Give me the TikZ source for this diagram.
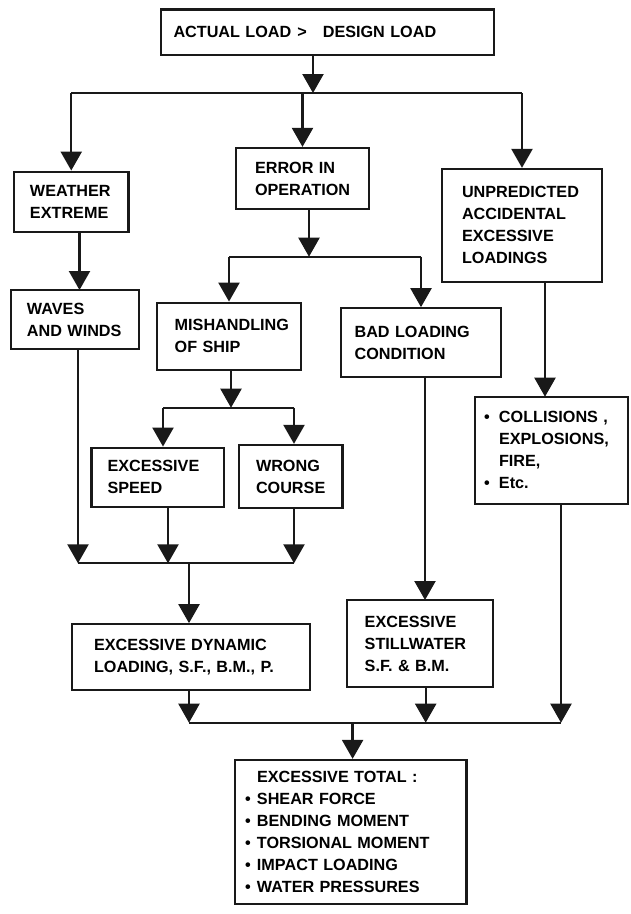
\documentclass[tikz,border=0pt]{standalone}
\usepackage{fontspec}
\setmainfont{Liberation Sans}
\usetikzlibrary{arrows.meta}
\hyphenpenalty=10000
\exhyphenpenalty=10000
\newcommand{\listdot}[1][12pt]{\makebox[#1][l]{\textbullet}}

\begin{document}
\begin{tikzpicture}[
    x=1pt, y=-1pt,
    block/.style={
      rectangle,
      draw=black!90,
      line width=2.3pt,
      align=left,
      font=\bfseries\fontsize{16.2}{22}\selectfont
    },
    link/.style={draw=black!90, line width=2.3pt},
    arr/.style={link, -{Triangle[length=19pt,width=21pt]}}
  ]

  \useasboundingbox (0,0) rectangle (630,914);

  % top box
  \draw (327.5,32.25) node[block, minimum width=333pt, minimum height=45.5pt,
    inner xsep=12.5pt, text width=308pt] (A) {ACTUAL LOAD\hspace{6pt}>\hspace{16pt}DESIGN LOAD};

  % first row
  \draw (71.25,201.7) node[block, minimum width=114.5pt, minimum height=60pt,
    inner xsep=16pt, text width=82.5pt] (W) {WEATHER\\EXTREME};
  \draw (302.5,178.5) node[block, minimum width=133pt, minimum height=61pt,
    inner xsep=19pt, text width=95pt] (E) {ERROR IN\\OPERATION};
  \draw (522,225.35) node[block, minimum width=160pt, minimum height=112.7pt,
    inner xsep=20pt, text width=120pt] (U) {UNPREDICTED\\ACCIDENTAL\\EXCESSIVE\\LOADINGS};

  % second row
  \draw (75,319.65) node[block, minimum width=128pt, minimum height=59.3pt,
    inner xsep=16pt, text width=96pt] (V) {WAVES\\AND WINDS};
  \draw (229,336.35) node[block, minimum width=144pt, minimum height=67.3pt,
    inner xsep=17.7pt, text width=108.6pt] (M) {MISHANDLING\\OF SHIP};
  \draw (421,342.8) node[block, minimum width=160pt, minimum height=69pt,
    inner xsep=13.6pt, text width=132.8pt] (B) {BAD LOADING\\CONDITION};
  \draw (551.5,450.35) node[block, minimum width=153pt, minimum height=107.3pt,
    inner xsep=9pt, text width=135pt] (C) {\listdot[15pt]COLLISIONS ,\\\hspace*{15pt}EXPLOSIONS,\\\hspace*{15pt}FIRE,\\\listdot[15pt]Etc.};

  % ship handling
  \draw (157.75,477.2) node[block, minimum width=132.5pt, minimum height=59pt,
    inner xsep=16pt, text width=100.5pt] (S) {EXCESSIVE\\SPEED};
  \draw (290.8,476.65) node[block, minimum width=103.6pt, minimum height=63.3pt,
    inner xsep=17pt, text width=69.6pt] (R) {WRONG\\COURSE};

  % loading boxes
  \draw (191,657.15) node[block, minimum width=238pt, minimum height=65.7pt,
    inner xsep=22pt, text width=194pt] (D) {EXCESSIVE DYNAMIC\\LOADING, S.F., B.M., P.};
  \draw (420,643.65) node[block, minimum width=146pt, minimum height=87.3pt,
    inner xsep=17.7pt, text width=110.6pt] (T) {EXCESSIVE\\STILLWATER\\S.F. \& B.M.};

  % total box
  \draw (350.75,832) node[block, minimum width=231.5pt, minimum height=144pt,
    inner xsep=10pt, text width=211.5pt] (X) {\hspace*{12pt}EXCESSIVE TOTAL :\\
    \listdot SHEAR FORCE\\\listdot BENDING MOMENT\\\listdot TORSIONAL MOMENT\\
    \listdot IMPACT LOADING\\\listdot WATER PRESSURES};

  % junctions
  \coordinate (j1) at (313,93);
  \coordinate (j2) at (309,256.7);
  \coordinate (j3) at (231,407.7);
  \coordinate (s1) at (163,407.7);
  \coordinate (r1) at (294,407.7);
  \coordinate (v1) at (79.5,290);
  \coordinate (c1) at (545,396.7);
  \coordinate (t1) at (425,600);
  \coordinate (j4) at (189,563.3);
  \coordinate (j4a) at (78,563.3);
  \coordinate (j4b) at (168,563.3);
  \coordinate (j4c) at (294,563.3);
  \coordinate (j5) at (352.6,722.7);
  \coordinate (j5a) at (189,722.7);
  \coordinate (j5b) at (425.7,722.7);
  \coordinate (j5c) at (561,722.7);

  % lines
  \draw[arr] (A.south -| j1) -- (j1);
  \draw[link] (W.north |- j1) -- (U.north |- j1);
  \draw[arr] (W.north |- j1) -- (W.north);
  \draw[arr] (E.north |- j1) -- (E.north);
  \draw[arr] (U.north |- j1) -- (U.north);

  \draw[arr] (W.south -| v1) -- (v1);
  \draw[arr] (E.south -| j2) -- (j2);
  \draw[link] (M.north |- j2) -- (B.north |- j2);
  \draw[arr] (M.north |- j2) -- (M.north);
  \draw[arr] (B.north |- j2) -- (B.north);
  \draw[arr] (U.south -| c1) -- (c1);

  \draw[arr] (M.south -| j3) -- (j3);
  \draw[link] (s1) -- (r1);
  \draw[arr] (s1) -- (S.north -| s1);
  \draw[arr] (r1) -- (R.north -| r1);

  \draw[arr] (V.south -| j4a) -- (j4a);
  \draw[arr] (S.south -| j4b) -- (j4b);
  \draw[arr] (R.south -| j4c) -- (j4c);
  \draw[link] (j4a) -- (j4c);
  \draw[arr] (j4) -- (D.north -| j4);
  \draw[arr] (B.south -| t1) -- (t1);

  \draw[arr] (D.south -| j5a) -- (j5a);
  \draw[arr] (T.south -| j5b) -- (j5b);
  \draw[arr] (C.south -| j5c) -- (j5c);
  \draw[link] (j5a) -- (j5c);
  \draw[arr] (j5) -- (X.north -| j5);
\end{tikzpicture}
\end{document}
